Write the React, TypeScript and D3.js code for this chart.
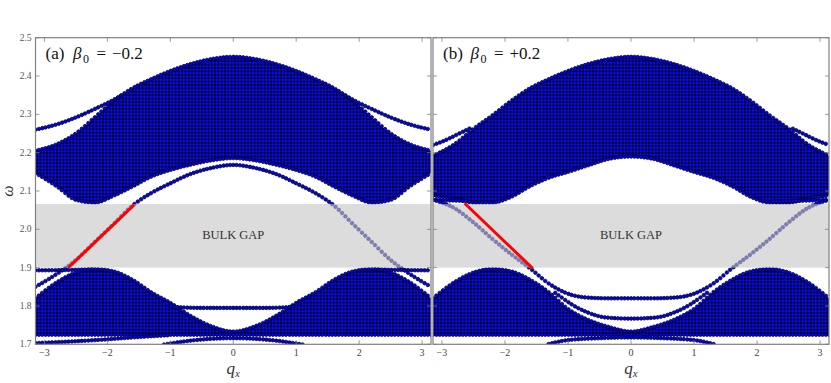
import React, { useEffect, useRef } from 'react';
import * as d3 from 'd3';

// q grid shared by the bulk edges and the surface bands
const qNodes = [-Math.PI, -2.8, -2.5, -2.2, -1.9, -1.6, -1.3, -1.0, -0.7, -0.35, 0, 0.35, 0.7, 1.0, 1.3, 1.6, 1.9, 2.2, 2.5, 2.8, Math.PI];

// panel (a) beta0 = -0.2
const aUpperTop = [2.205, 2.222, 2.250, 2.292, 2.335, 2.368, 2.392, 2.413, 2.430, 2.444, 2.450, 2.444, 2.430, 2.413, 2.392, 2.368, 2.335, 2.292, 2.250, 2.222, 2.205];
const aUpperBottom = [2.147, 2.112, 2.077, 2.070, 2.088, 2.112, 2.138, 2.155, 2.168, 2.180, 2.186, 2.180, 2.168, 2.155, 2.138, 2.112, 2.088, 2.070, 2.077, 2.112, 2.147];
const aLowerTop = [1.820, 1.862, 1.887, 1.896, 1.890, 1.868, 1.835, 1.808, 1.776, 1.747, 1.733, 1.747, 1.776, 1.808, 1.835, 1.868, 1.890, 1.896, 1.887, 1.862, 1.820];
const aLowerBottom = [1.725, 1.725, 1.725, 1.725, 1.725, 1.725, 1.725, 1.725, 1.725, 1.725, 1.725, 1.725, 1.725, 1.725, 1.725, 1.725, 1.725, 1.725, 1.725, 1.725, 1.725];
const aSurface = [1.850, 1.884, 1.920, 1.967, 2.014, 2.062, 2.095, 2.120, 2.143, 2.160, 2.168, 2.160, 2.143, 2.120, 2.095, 2.062, 2.014, 1.967, 1.920, 1.884, 1.850];
const aTopLeft = [[-Math.PI, 2.260], [-2.8, 2.274], [-2.5, 2.292], [-2.2, 2.314], [-1.9, 2.338], [-1.75, 2.352]];
const aTopRight = [[1.75, 2.352], [1.9, 2.338], [2.2, 2.314], [2.5, 2.292], [2.8, 2.274], [Math.PI, 2.260]];
const aFlatLeft = [[-Math.PI, 1.893], [-2.6, 1.894], [-2.2, 1.896]];
const aFlatRight = [[2.2, 1.896], [2.6, 1.894], [Math.PI, 1.893]];
const aFlatLow = [[-1.05, 1.805], [-0.9, 1.797], [-0.5, 1.795], [0, 1.795], [0.5, 1.795], [0.9, 1.797], [1.05, 1.805]];
const aBottomLeft = [[-Math.PI, 1.703], [-2.5, 1.708], [-2.0, 1.713], [-1.5, 1.719], [-1.0, 1.724]];
const aBottomMid = [[-1.15, 1.698], [-0.6, 1.711], [0, 1.716], [0.6, 1.711], [1.15, 1.698]];
const aRed = [[-2.62, 1.900], [-1.576, 2.064]];

// panel (b) beta0 = +0.2
const bUpperTop = [2.192, 2.222, 2.262, 2.297, 2.335, 2.368, 2.392, 2.413, 2.430, 2.444, 2.450, 2.444, 2.430, 2.413, 2.392, 2.368, 2.335, 2.297, 2.262, 2.222, 2.192];
const bUpperBottom = [2.088, 2.080, 2.070, 2.070, 2.085, 2.113, 2.135, 2.150, 2.166, 2.184, 2.190, 2.184, 2.166, 2.150, 2.135, 2.113, 2.085, 2.070, 2.070, 2.080, 2.088];
const bLowerTop = [1.820, 1.862, 1.887, 1.896, 1.890, 1.868, 1.835, 1.792, 1.765, 1.745, 1.733, 1.745, 1.765, 1.792, 1.835, 1.868, 1.890, 1.896, 1.887, 1.862, 1.820];
const bLowerBottom = [1.725, 1.725, 1.725, 1.725, 1.725, 1.725, 1.725, 1.725, 1.725, 1.725, 1.725, 1.725, 1.725, 1.725, 1.725, 1.725, 1.725, 1.725, 1.725, 1.725, 1.725];
const bSurface = [2.077, 2.055, 2.018, 1.975, 1.935, 1.898, 1.858, 1.832, 1.822, 1.820, 1.820, 1.820, 1.822, 1.832, 1.858, 1.898, 1.935, 1.975, 2.018, 2.055, 2.077];
const bTopLeft = [[-Math.PI, 2.220], [-2.95, 2.232], [-2.75, 2.248], [-2.55, 2.264]];
const bTopRight = [[2.55, 2.264], [2.75, 2.248], [2.95, 2.232], [Math.PI, 2.220]];
const bFlatLeft = [[-Math.PI, 2.077], [-2.6, 2.074]];
const bFlatRight = [[2.2, 2.072], [2.6, 2.074], [Math.PI, 2.077]];
const bMidBand = [[-1.25, 1.840], [-1.1, 1.822], [-0.9, 1.800], [-0.7, 1.784], [-0.4, 1.770], [0, 1.767], [0.4, 1.770], [0.7, 1.784], [0.9, 1.800], [1.1, 1.822], [1.25, 1.840]];
const bBottomMid = [[-1.35, 1.699], [-1.0, 1.711], [-0.5, 1.716], [0, 1.718], [0.5, 1.716], [1.0, 1.711], [1.35, 1.699]];
const bRed = [[-2.64, 2.068], [-1.56, 1.898]];

const gapRange = [1.90, 2.066];
const xTicks = [-3, -2, -1, 0, 1, 2, 3];
const yTicks = [1.7, 1.8, 1.9, 2.0, 2.1, 2.2, 2.3, 2.4, 2.5];
const nColumns = 120; // k-points across the zone

const panelA = {
  id: 'a', left: 35.5, right: 431, label: '(a)', beta: '−0.2',
  upperTop: aUpperTop, upperBottom: aUpperBottom, lowerTop: aLowerTop, lowerBottom: aLowerBottom,
  surface: aSurface,
  bands: [aTopLeft, aTopRight, aFlatLeft, aFlatRight, aFlatLow, aBottomLeft, aBottomMid],
  red: aRed,
};
const panelB = {
  id: 'b', left: 433, right: 829, label: '(b)', beta: '+0.2',
  upperTop: bUpperTop, upperBottom: bUpperBottom, lowerTop: bLowerTop, lowerBottom: bLowerBottom,
  surface: bSurface,
  bands: [bTopLeft, bTopRight, bFlatLeft, bFlatRight, bMidBand, bBottomMid],
  red: bRed,
};

const yScale = d3.scaleLinear().domain([1.7, 2.5]).range([344.3, 37.7]);
const serif = "'Liberation Serif', 'DejaVu Serif', serif";

const Panel = ({ p, showY }: { p: any; showY: boolean }) => {
  const dotsRef = useRef<SVGGElement>(null);
  const x = d3.scaleLinear().domain([-Math.PI, Math.PI]).range([p.left, p.right]);
  const y = yScale;
  const line = d3.line<number[]>().x(d => x(d[0])).y(d => y(d[1])).curve(d3.curveMonotoneX);
  const zip = (vals: number[]) => qNodes.map((q, i) => [q, vals[i]]);
  const area = d3.area<number[]>()
    .x(d => x(d[0])).y0(d => y(d[1])).y1(d => y(d[2]))
    .curve(d3.curveMonotoneX);
  const both = (lo: number[], hi: number[]) => qNodes.map((q, i) => [q, lo[i], hi[i]]);
  const clipId = `clip-${p.id}`;
  const patId = `bulk-${p.id}`;
  const [y0, y1] = y.range();
  const cx = (p.left + p.right) / 2;
  const step = (p.right - p.left) / nColumns;

  useEffect(() => {
    const g = d3.select(dotsRef.current);
    g.selectAll('*').remove();
    const curves = [
      zip(p.upperTop), zip(p.upperBottom), zip(p.lowerTop), zip(p.lowerBottom),
      ...p.bands, zip(p.surface),
    ];
    curves.forEach((c: number[][]) => {
      const tmp = g.append('path').attr('d', line(c) || '').attr('fill', 'none');
      const node = tmp.node() as SVGPathElement;
      const len = node.getTotalLength();
      const pts: [number, number][] = [];
      let col = Math.ceil((x(c[0][0]) - p.left) / step - 1e-6);
      for (let s = 0; s <= len; s += 0.25) {
        const pt = node.getPointAtLength(s);
        const target = p.left + col * step;
        if (pt.x >= target - 1e-6) {
          pts.push([pt.x, pt.y]);
          col += 1;
        }
      }
      tmp.remove();
      g.append('g').selectAll('circle').data(pts).enter().append('circle')
        .attr('cx', d => d[0]).attr('cy', d => d[1]).attr('r', 1.8)
        .attr('fill', '#0000ff').attr('stroke', '#000').attr('stroke-width', 0.7);
    });
  }, []);

  return (
    <g>
      <defs>
        <clipPath id={clipId}>
          <rect x={p.left} y={y1} width={p.right - p.left} height={y0 - y1} />
        </clipPath>
        <pattern id={patId} patternUnits="userSpaceOnUse" width={step} height={3.4} x={p.left - step / 2}>
          <rect width={step} height={3.4} fill="#000" />
          <circle cx={step / 2} cy={1.7} r={1.45} fill="#0a0aff" />
        </pattern>
      </defs>
      <g clipPath={`url(#${clipId})`}>
        <path d={area(both(p.upperBottom, p.upperTop)) || ''} fill={`url(#${patId})`} />
        <path d={area(both(p.lowerBottom, p.lowerTop)) || ''} fill={`url(#${patId})`} />
        <g ref={dotsRef} />
        <rect x={p.left} y={y(gapRange[1])} width={p.right - p.left} height={y(gapRange[0]) - y(gapRange[1])}
          fill="#c5c5c5" fillOpacity={0.61} />
        <path d={d3.line()(p.red.map((d: number[]) => [x(d[0]), y(d[1])] as [number, number])) || ''}
          stroke="#ff0000" strokeWidth={3} fill="none" />
      </g>
      <text x={cx} y={y(1.985) + 4} textAnchor="middle" fontFamily={serif} fontSize={12.5} fill="#333">BULK GAP</text>

      {/* frame and ticks */}
      <rect x={p.left} y={y1} width={p.right - p.left} height={y0 - y1} fill="none" stroke="#808080" strokeWidth={1.2} />
      {xTicks.map(t => (
        <g key={t} stroke="#808080" strokeWidth={0.8}>
          <line x1={x(t)} x2={x(t)} y1={y0} y2={y0 - 4} />
          <line x1={x(t)} x2={x(t)} y1={y1} y2={y1 + 4} />
        </g>
      ))}
      {yTicks.map(t => (
        <g key={t} stroke="#808080" strokeWidth={0.8}>
          <line x1={p.left} x2={p.left + 4} y1={y(t)} y2={y(t)} />
          <line x1={p.right} x2={p.right - 4} y1={y(t)} y2={y(t)} />
        </g>
      ))}
      {xTicks.map(t => (
        <text key={t} x={x(t)} y={y0 + 11.5} textAnchor="middle" fontFamily={serif} fontSize={10} fill="#444">
          {t < 0 ? `−${-t}` : `${t}`}
        </text>
      ))}
      {showY && yTicks.map(t => (
        <text key={t} x={p.left - 4} y={y(t) + 3} textAnchor="end" fontFamily={serif} fontSize={9.5} fill="#555">
          {t.toFixed(1)}
        </text>
      ))}

      <text y={59} fontFamily={serif} fontSize={17} fill="#111">
        <tspan x={p.left + 10}>{p.label}</tspan>
        <tspan x={p.left + 37.5} fontStyle="italic">β</tspan>
        <tspan x={p.left + 47.5} y={63} fontSize={12}>0</tspan>
        <tspan x={p.left + 61} y={59}>=</tspan>
        <tspan x={p.left + 76.5}>{p.beta}</tspan>
      </text>

      <text x={cx} y={374} textAnchor="middle" fontFamily={serif} fontSize={17} fill="#333">
        <tspan fontStyle="italic">q</tspan>
        <tspan fontStyle="italic" fontSize={11} dy={3}>x</tspan>
      </text>
    </g>
  );
};

export default function App() {
  return (
    <svg width={831} height={383} style={{ position: 'absolute', left: 0, top: 0, background: '#fff' }}>
      <Panel p={panelA} showY={true} />
      <Panel p={panelB} showY={false} />
      <text transform="translate(13,191) rotate(-90)" textAnchor="middle" fontFamily={serif} fontSize={16}
        fontStyle="italic" fill="#333">ω</text>
    </svg>
  );
}
